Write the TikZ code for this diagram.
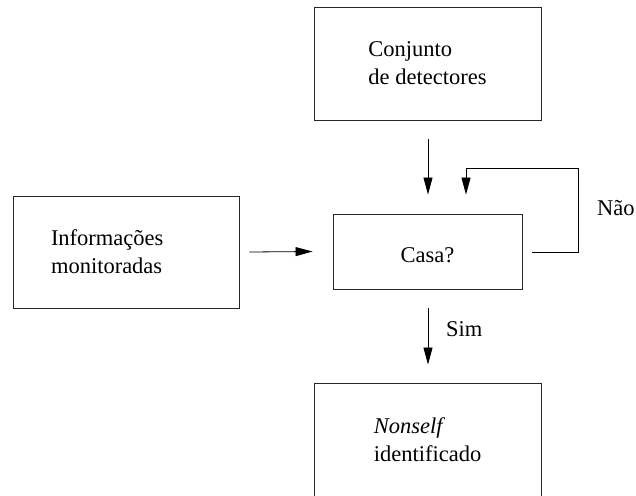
\documentclass[tikz,border=0pt]{standalone}
\usepackage{fontspec}
\setmainfont{Liberation Serif}
\usetikzlibrary{arrows.meta,calc}
\begin{document}
\begin{tikzpicture}[x=1pt,y=-1pt,
  box/.style={draw=black!85, line width=0.9pt, minimum width=227pt, minimum height=113pt, inner sep=0pt, align=left, font=\fontsize{22.5}{28}\selectfont},
  lbl/.style={inner sep=0pt, font=\fontsize{22.5}{28}\selectfont},
  conn/.style={line width=0.8pt, -{Triangle[length=17pt,width=9pt]}}]
\clip (0,0) rectangle (636,495);
\node[box] (det) at (427.5,63.5) {Conjunto\\de detectores};
\node[box, minimum width=226pt, minimum height=112pt, text width=150pt] (info) at (126,252) {Informações\\monitoradas};
\node[box, minimum width=189pt, minimum height=75pt, text height=22pt, text depth=0pt] (casa) at (427.5,251.5) {Casa?};
\node[box, minimum height=114pt] (ns) at (427.5,440) {\textit{Nonself}\\identificado};
\coordinate (fbr) at (578,168);
\draw[conn] ($(det.south)+(0.5,19)$) -- ($(casa.north)+(0.5,-19)$);
\draw[conn] ($(info.east)+(10,0)$) -- ($(casa.west)+(-20,0)$);
\draw[conn] ($(casa.east)+(10,0.5)$) -| (fbr) -| ($(casa.north)+(38.5,-19)$);
\draw[conn] ($(casa.south)+(0.5,19)$) -- ($(ns.north)+(0.5,-18)$);
\node[lbl, anchor=base west] (nao) at (597,215) {Não};
\node[lbl, anchor=base west] (sim) at (446,336) {Sim};
\end{tikzpicture}
\end{document}
